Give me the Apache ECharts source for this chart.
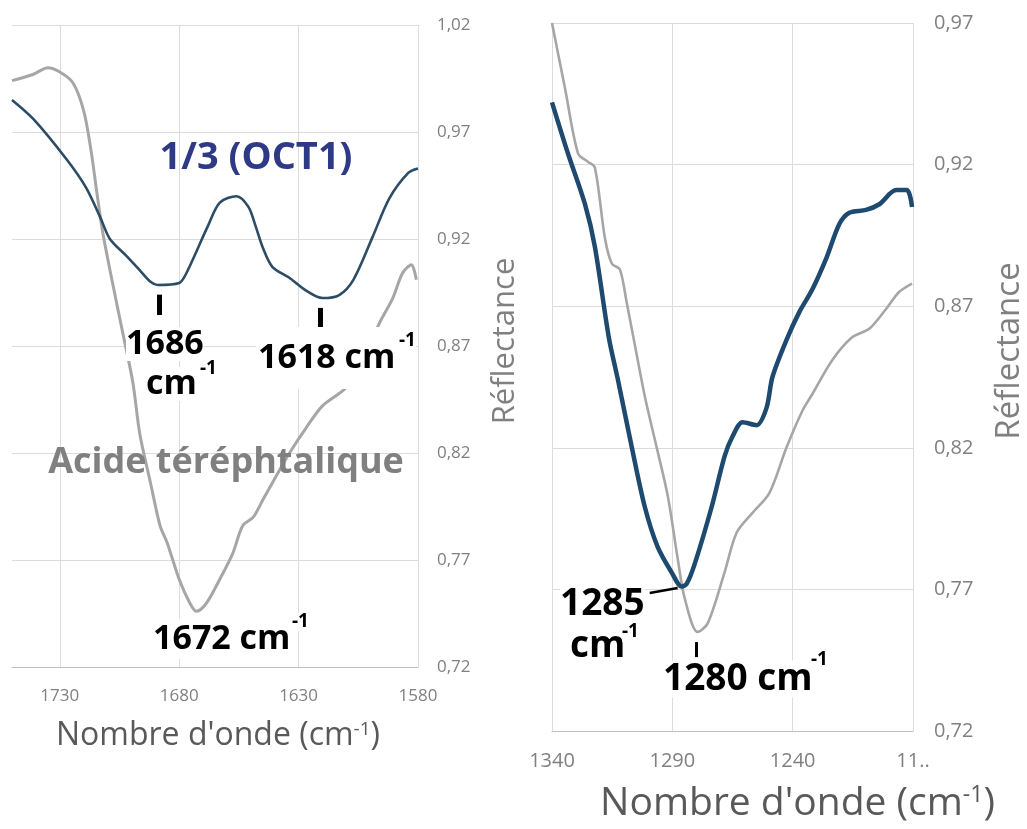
<!DOCTYPE html>
<html>
<head>
<meta charset="utf-8">
<script src="https://cdn.jsdelivr.net/npm/echarts@6/dist/echarts.min.js"></script>
<style>
html, body { margin: 0; padding: 0; background: #fff; }
#main { width: 1027px; height: 829px; }
</style>
</head>
<body>
<div id="main"></div>
<script>
// spectres : [nombre d'onde, réflectance]
var oct1Left = [[1750,0.985],[1741,0.976],[1727,0.957],[1719,0.944],[1713,0.930],[1709,0.920],[1702,0.912],[1697,0.906],[1692,0.900],[1689,0.8985],[1680,0.8994],[1677,0.904],[1668,0.926],[1663,0.937],[1656,0.940],[1651,0.935],[1648,0.926],[1645,0.916],[1641,0.907],[1634,0.902],[1627,0.896],[1620,0.8924],[1613,0.8938],[1607,0.901],[1599,0.921],[1592,0.939],[1584,0.951],[1580,0.953]];
var acideLeft = [[1750,0.994],[1741,0.997],[1735,1.000],[1730,0.998],[1724.5,0.993],[1720,0.980],[1717,0.962],[1714.5,0.942],[1712,0.923],[1708,0.900],[1703.6,0.876],[1699.4,0.853],[1696.5,0.829],[1692,0.806],[1688,0.786],[1685,0.778],[1680,0.761],[1675.6,0.750],[1672.7,0.746],[1668.5,0.750],[1663,0.761],[1657.6,0.773],[1653.4,0.786],[1649,0.790],[1645,0.798],[1641,0.806],[1633.8,0.820],[1626.7,0.832],[1620,0.842],[1611.6,0.849],[1607.4,0.854],[1601.6,0.867],[1596,0.881],[1590.7,0.892],[1586.5,0.904],[1582.8,0.908],[1580.7,0.901]];
var oct1Right = [[1340,0.942],[1333.4,0.924],[1326.3,0.906],[1322.2,0.891],[1316.4,0.859],[1312.6,0.844],[1306.8,0.820],[1301.4,0.799],[1296.1,0.785],[1290.3,0.776],[1286.1,0.771],[1284,0.772],[1280.7,0.779],[1273.7,0.799],[1268.3,0.817],[1265,0.824],[1260.8,0.829],[1255,0.828],[1250.9,0.834],[1248.4,0.845],[1242.6,0.858],[1237.2,0.868],[1231.8,0.876],[1226,0.887],[1220.6,0.899],[1216.5,0.903],[1209.5,0.904],[1204,0.906],[1197,0.911],[1192.5,0.911],[1190.4,0.905]];
var acideRight = [[1340,0.970],[1334.6,0.947],[1329.2,0.924],[1325.1,0.921],[1322.2,0.919],[1318,0.894],[1315.1,0.885],[1311.8,0.883],[1308.9,0.871],[1306.4,0.860],[1301.4,0.838],[1297.3,0.823],[1291.9,0.803],[1287.8,0.781],[1284.9,0.767],[1279.5,0.755],[1275.3,0.758],[1268.3,0.776],[1263.3,0.790],[1256.7,0.797],[1249.7,0.804],[1242.6,0.820],[1236,0.833],[1231.8,0.839],[1223.5,0.851],[1215.3,0.859],[1208.2,0.862],[1201.2,0.869],[1195.8,0.875],[1190.4,0.878]];

var leftXTicks = [1730, 1680, 1630, 1580];
var leftYTicks = [0.72, 0.77, 0.82, 0.87, 0.92, 0.97, 1.02];
var rightXTicks = [1340, 1290, 1240, 1190];
var rightXLabels = ['1340', '1290', '1240', '11..'];
var rightYTicks = [0.72, 0.77, 0.82, 0.87, 0.92, 0.97];

var FONT = '"Open Sans", sans-serif';
var chart = echarts.init(document.getElementById('main'));

function virgule(v) {
    return v.toFixed(2).replace('.', ',');
}

// texte d'annotation en gras sur fond blanc
function label(x, y, txt, size, pad) {
    return {
        type: 'text', x: x, y: y, z: 100,
        style: {
            text: txt, fontSize: size, fontWeight: 'bold', fontFamily: FONT,
            fill: '#000', align: 'left', verticalAlign: 'middle',
            backgroundColor: '#fff', padding: pad || 0
        }
    };
}

var option = {
    animation: false,
    backgroundColor: '#fff',
    textStyle: { fontFamily: FONT },
    grid: [
        { left: 12, top: 25, width: 406, height: 642 },
        { left: 552, top: 23, width: 362, height: 708 }
    ],
    xAxis: [
        {
            gridIndex: 0, type: 'value', min: 1580, max: 1750, inverse: true,
            name: "Nombre d'onde (cm{s|-1})", nameLocation: 'middle', nameGap: 53,
            nameTextStyle: { fontSize: 32, color: '#595959', padding: [0, 0, 0, 6], rich: { s: { fontSize: 19, color: '#595959', verticalAlign: 'top' } } },
            axisLine: { lineStyle: { color: '#bfbfbf' } },
            axisTick: { show: false, customValues: leftXTicks },
            axisLabel: {
                customValues: leftXTicks, fontSize: 17, color: '#808080', margin: 21,
                formatter: function (v) { return String(v); }
            },
            splitLine: { lineStyle: { color: '#dcdcdc' } }
        },
        {
            gridIndex: 1, type: 'value', min: 1190, max: 1340, inverse: true,
            name: "Nombre d'onde (cm{s|-1})", nameLocation: 'middle', nameGap: 53,
            nameTextStyle: { fontSize: 39, color: '#595959', padding: [0, 0, 0, 130], rich: { s: { fontSize: 23, color: '#595959', verticalAlign: 'top' } } },
            axisLine: { lineStyle: { color: '#bfbfbf' } },
            axisTick: { show: false, customValues: rightXTicks },
            axisLabel: {
                customValues: rightXTicks, fontSize: 20, color: '#808080', margin: 20,
                formatter: function (v) { return rightXLabels[rightXTicks.indexOf(v)]; }
            },
            splitLine: { lineStyle: { color: '#dcdcdc' } }
        }
    ],
    yAxis: [
        {
            gridIndex: 0, type: 'value', min: 0.72, max: 1.02, position: 'right',
            name: 'Réflectance', nameLocation: 'middle', nameRotate: 90, nameGap: 72,
            nameTextStyle: { fontSize: 31, color: '#808080', padding: [0, 0, 0, 10] },
            axisLine: { show: false },
            axisTick: { show: false, customValues: leftYTicks },
            axisLabel: { customValues: leftYTicks, fontSize: 17, color: '#808080', margin: 19, formatter: virgule },
            splitLine: { lineStyle: { color: '#dcdcdc' } }
        },
        {
            gridIndex: 1, type: 'value', min: 0.72, max: 0.97, position: 'right',
            name: 'Réflectance', nameLocation: 'middle', nameRotate: 90, nameGap: 80,
            nameTextStyle: { fontSize: 33, color: '#808080', padding: [0, 0, 0, 52] },
            axisLine: { show: false },
            axisTick: { show: false, customValues: rightYTicks },
            axisLabel: { customValues: rightYTicks, fontSize: 20, color: '#808080', margin: 21, formatter: virgule },
            splitLine: { lineStyle: { color: '#dcdcdc' } }
        }
    ],
    series: [
        {
            name: 'Acide téréphtalique', type: 'line', xAxisIndex: 0, yAxisIndex: 0,
            data: acideLeft, smooth: 0.3, showSymbol: false,
            lineStyle: { color: '#a6a6a6', width: 3 }
        },
        {
            name: '1/3 (OCT1)', type: 'line', xAxisIndex: 0, yAxisIndex: 0,
            data: oct1Left, smooth: 0.3, showSymbol: false,
            lineStyle: { color: '#2d4c66', width: 2.6 },
            markLine: {
                silent: true, symbol: ['none', 'none'], label: { show: false },
                lineStyle: { color: '#000', width: 5, type: 'solid' },
                data: [
                    [{ coord: [1688.5, 0.894] }, { coord: [1688.5, 0.8845] }],
                    [{ coord: [1621, 0.8878] }, { coord: [1621, 0.8761] }]
                ]
            }
        },
        {
            name: 'Acide téréphtalique', type: 'line', xAxisIndex: 1, yAxisIndex: 1,
            data: acideRight, smooth: 0.3, showSymbol: false,
            lineStyle: { color: '#a6a6a6', width: 2.6 }
        },
        {
            name: '1/3 (OCT1)', type: 'line', xAxisIndex: 1, yAxisIndex: 1,
            data: oct1Right, smooth: 0.3, showSymbol: false,
            lineStyle: { color: '#1f4a70', width: 4.5 },
            markLine: {
                silent: true, symbol: ['none', 'none'], label: { show: false },
                lineStyle: { color: '#000', width: 2.5, type: 'solid' },
                data: [
                    [{ coord: [1299.4, 0.7687] }, { coord: [1287.8, 0.7705] }],
                    [{ coord: [1280, 0.7514], lineStyle: { width: 3 } }, { coord: [1280, 0.7461] }]
                ]
            }
        }
    ],
    graphic: [
        {
            type: 'text', x: 256, y: 158, z: 100,
            style: { text: '1/3 (OCT1)', fontSize: 38, fontWeight: 'bold', fontFamily: FONT, fill: '#2f3a86', align: 'center', verticalAlign: 'middle' }
        },
        {
            type: 'text', x: 226, y: 463, z: 100,
            style: { text: 'Acide téréphtalique', fontSize: 36, fontWeight: 'bold', fontFamily: FONT, fill: '#808080', align: 'center', verticalAlign: 'middle' }
        },
        label(126, 344, '1686', 34),
        label(146, 384, 'cm', 34),
        label(200, 369, '-1', 19),
        label(256, 358, '1618 cm', 34, [18, 4, 10, 2]),
        label(399, 341, '-1', 19),
        label(151, 639, '1672 cm', 34, [2, 4, 4, 2]),
        label(292, 622, '-1', 19),
        label(560, 604, '1285', 37),
        label(570, 646, 'cm', 37),
        label(622, 632, '-1', 19),
        label(663, 679, '1280 cm', 37),
        label(811, 660, '-1', 19)
    ]
};

chart.setOption(option);
</script>
</body>
</html>
